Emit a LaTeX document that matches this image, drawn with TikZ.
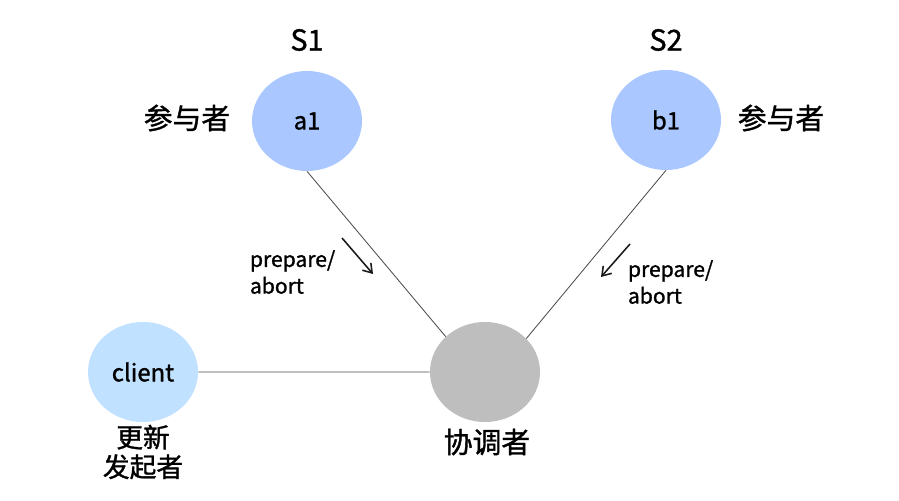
\documentclass[tikz,border=0pt]{standalone}
\usepackage{fontspec}
\setmainfont{Noto Sans CJK SC}[FakeBold=1.2]
\usepackage{tikz}
\usetikzlibrary{arrows.meta,shapes.geometric}
\definecolor{partblue}{RGB}{170,200,255}
\definecolor{clientblue}{RGB}{192,225,255}
\definecolor{coordgray}{RGB}{190,190,190}
\tikzset{
    >={Straight Barb[length=6pt, width=8pt]}, % Default arrow tip
    peer/.style={ellipse, minimum width=2.75cm, minimum height=2.5cm, inner sep=0pt, font=\fontsize{17}{20}\selectfont},
    link/.style={draw=black!70, line width=0.6pt},
    flow/.style={->, line width=1.1pt, black!90},
    caption/.style={font=\fontsize{20.5}{24}\selectfont},
    msg/.style={font=\fontsize{15}{19}\selectfont, align=left, anchor=west}
}

\begin{document}
\begin{tikzpicture}[x=0.025cm, y=0.025cm]
    \useasboundingbox (0, 0) rectangle (899, 500);
    \draw
        node (a1) [peer, fill=partblue] at (307, 379) {a1}
        node (b1) [peer, fill=partblue] at (666, 380) {b1}
        node (client) [peer, fill=clientblue] at (143, 128) {client}
        node (co) [peer, fill=coordgray] at (485, 128) {}
    ;
    \draw
        node (s1) [caption] at (307, 460) {S1}
        node (s2) [caption] at (666, 460) {S2}
        node (pa) [caption] at (187, 382) {参与者}
        node (pb) [caption] at (781, 382) {参与者}
        node (colabel) [caption] at (487, 58) {协调者}
        node (initiator) [caption, font=\fontsize{19}{21}\selectfont, align=center] at (143, 48) {更新\\发起者}
        node (msga) [msg] at (245, 228) {prepare/\\abort}
        node (msgb) [msg] at (623, 218) {prepare/\\abort}
    ;
    \coordinate (ta) at (342, 262);
    \coordinate (ha) at (373, 226);
    \coordinate (tb) at (630, 256);
    \coordinate (hb) at (601, 223);
    \draw
        [link]
        (a1.south) -- (co.138)
        (b1.south) -- (co.39)
        (client) -- (co)
    ;
    \draw [flow] (ta) -- (ha);
    \draw [flow] (tb) -- (hb);
\end{tikzpicture}
\end{document}
